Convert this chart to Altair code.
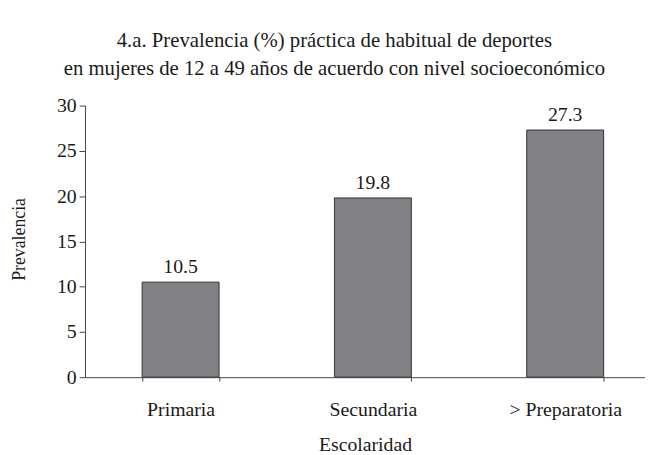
import altair as alt
import pandas as pd

categories = ["Primaria", "Secundaria", "> Preparatoria"]
values = [10.5, 19.8, 27.3]
labels = ["10.5", "19.8", "27.3"]

df = pd.DataFrame({"cat": categories, "val": values, "lab": labels})

FONT = "Liberation Serif"

x = alt.X("cat:N", sort=categories, title="Escolaridad",
          scale=alt.Scale(paddingInner=0.6, paddingOuter=0.256, align=0.58),
          axis=alt.Axis(labelAngle=0, tickBand="extent", tickSize=4, labelPadding=19,
                        labelBaseline="top", titlePadding=15, labelFontSize=20, titleFontSize=20))
y = alt.Y("val:Q", title="Prevalencia",
          scale=alt.Scale(domain=[0, 30]),
          axis=alt.Axis(values=[0, 5, 10, 15, 20, 25, 30], tickSize=6, labelPadding=3,
                        grid=False, titleX=-61, titleY=135, titleBaseline="alphabetic",
                        titleAlign="center", labelFontSize=20, titleFontSize=18))

bars = alt.Chart(df).mark_bar(color="#808184", stroke="#333333", strokeWidth=1).encode(x=x, y=y)
text = alt.Chart(df).mark_text(baseline="alphabetic", dy=-9, fontSize=20, font=FONT, color="#1a1a1a").encode(
    x=alt.X("cat:N", sort=categories), y="val:Q", text="lab:N")

chart = (bars + text).properties(
    width=567, height=275,
    autosize=alt.AutoSizeParams(type="none"),
    padding={"left": 78, "top": 96, "right": 0, "bottom": 78},
    title=alt.TitleParams(
        text=["4.a. Prevalencia (%) práctica de habitual de deportes",
              "en mujeres de 12 a 49 años de acuerdo con nivel socioeconómico"],
        font=FONT, fontSize=21, fontWeight="normal", color="#1a1a1a",
        anchor="middle", dx=-31, offset=17, lineHeight=28),
).configure_axis(
    labelFont=FONT, titleFont=FONT, labelColor="#1a1a1a", titleColor="#1a1a1a",
    titleFontWeight="normal", domainColor="#444444", tickColor="#444444",
).configure_view(stroke=None)

chart.save("out.html", embed_options={"renderer": "svg", "actions": False})
